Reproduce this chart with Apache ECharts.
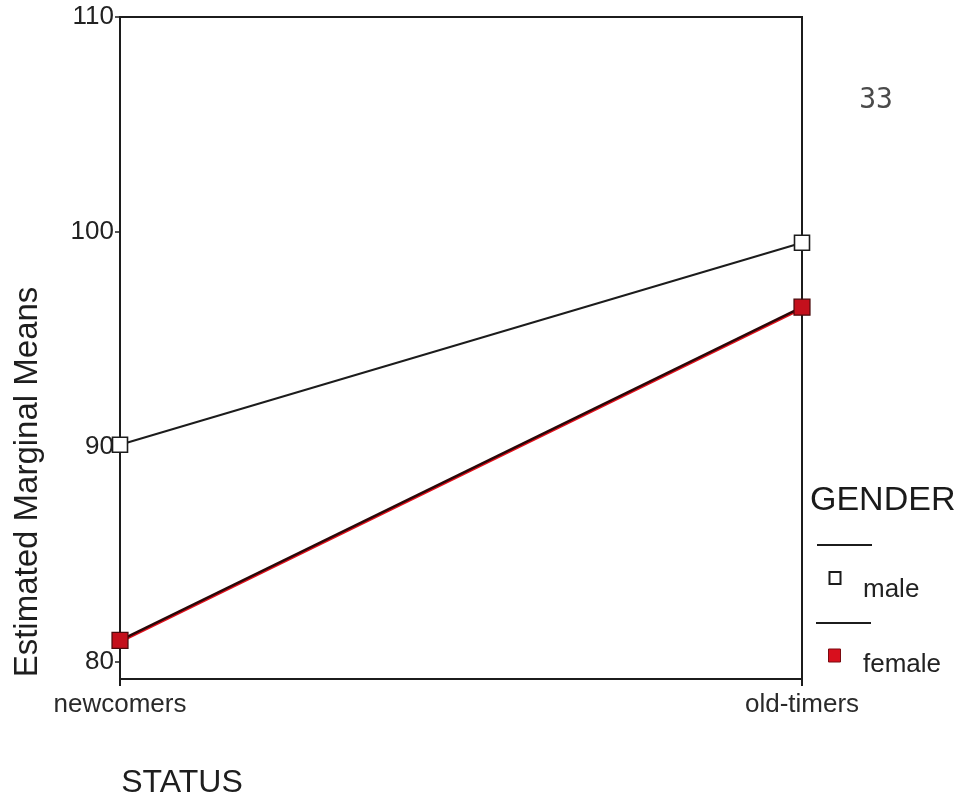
<!DOCTYPE html>
<html>
<head>
<meta charset="utf-8">
<title>Estimated Marginal Means by STATUS and GENDER</title>
<script src="https://cdn.jsdelivr.net/npm/echarts@6/dist/echarts.min.js"></script>
<style>
  html, body { margin: 0; padding: 0; background: #ffffff; }
  #chart { width: 971px; height: 802px; }
</style>
</head>
<body>
<div id="chart"></div>
<script>
// Categories along the x axis (STATUS)
const statusCategories = ['newcomers', 'old-timers'];

// Estimated marginal means for each GENDER group
const maleMeans = [90.1, 99.5];
const femaleMeans = [81.0, 96.5];

// Tick values on the y axis
const yTickValues = [80, 90, 100, 110];

const seriesNames = ['male', 'female'];
const legendTitle = 'GENDER';
const xTitle = 'STATUS';
const yTitle = 'Estimated Marginal Means';
const pageNumber = '33';

const FONT = '"Liberation Sans", Arial, Helvetica, sans-serif';
const INK = '#1c1c1c';
const FEMALE_FILL = '#c4101c';
const FEMALE_EDGE = '#4a0a0c';

const chart = echarts.init(document.getElementById('chart'), null, { renderer: 'canvas' });

const option = {
  backgroundColor: '#ffffff',
  animation: false,
  grid: {
    left: 120, top: 17, right: 169, bottom: 123,
    show: true, borderColor: INK, borderWidth: 2, backgroundColor: 'transparent'
  },
  xAxis: {
    type: 'category',
    data: statusCategories,
    boundaryGap: false,
    axisLine: { show: true, lineStyle: { color: INK, width: 2 } },
    axisTick: { show: true, length: 7, inside: false, lineStyle: { color: INK, width: 2 } },
    axisLabel: { margin: 13, color: '#2a2a2a', fontFamily: FONT, fontSize: 26 },
    splitLine: { show: false }
  },
  yAxis: {
    type: 'value',
    min: 79.2,
    max: 110,
    axisLine: { show: true, lineStyle: { color: INK, width: 2 } },
    axisTick: { show: true, length: 5, customValues: yTickValues, lineStyle: { color: INK, width: 1.5 } },
    axisLabel: { customValues: yTickValues, margin: 6, color: '#222', fontFamily: FONT, fontSize: 26 },
    splitLine: { show: false }
  },
  series: [
    {
      name: seriesNames[0],
      type: 'line',
      data: maleMeans,
      clip: false,
      symbol: 'rect',
      symbolSize: 15,
      z: 5,
      lineStyle: { color: INK, width: 2 },
      itemStyle: { color: '#ffffff', borderColor: INK, borderWidth: 1.6 }
    },
    {
      name: seriesNames[1],
      type: 'line',
      data: femaleMeans,
      clip: false,
      symbol: 'rect',
      symbolSize: 16,
      z: 5,
      lineStyle: { color: '#2a0708', width: 2.4, shadowColor: '#e0101c', shadowBlur: 0, shadowOffsetY: 1.5 },
      itemStyle: { color: FEMALE_FILL, borderColor: FEMALE_EDGE, borderWidth: 1.2 }
    }
  ],
  graphic: [
    // y axis title
    {
      type: 'text', x: 28, y: 482, rotation: Math.PI / 2,
      style: { text: yTitle, fill: '#1e1e1e', font: '33px ' + FONT, align: 'center', verticalAlign: 'middle' }
    },
    // x axis title
    {
      type: 'text', x: 182, y: 783,
      style: { text: xTitle, fill: '#1e1e1e', font: '32px ' + FONT, align: 'center', verticalAlign: 'middle' }
    },
    // page number
    {
      type: 'text', x: 876, y: 101,
      style: { text: pageNumber, fill: '#4a4a4a', font: '28px "DejaVu Sans Mono", "Liberation Mono", monospace', align: 'center', verticalAlign: 'middle' }
    },
    // legend
    {
      type: 'text', x: 810, y: 501,
      style: { text: legendTitle, fill: '#1a1a1a', font: '34px ' + FONT, align: 'left', verticalAlign: 'middle' }
    },
    { type: 'line', shape: { x1: 817, y1: 545, x2: 872, y2: 545 }, style: { stroke: INK, lineWidth: 2 } },
    { type: 'rect', shape: { x: 829.5, y: 572, width: 11, height: 12 }, style: { fill: '#ffffff', stroke: INK, lineWidth: 2 } },
    {
      type: 'text', x: 863, y: 590,
      style: { text: seriesNames[0], fill: '#222', font: '26px ' + FONT, align: 'left', verticalAlign: 'middle' }
    },
    { type: 'line', shape: { x1: 816, y1: 623, x2: 871, y2: 623 }, style: { stroke: INK, lineWidth: 2 } },
    { type: 'rect', shape: { x: 828.5, y: 649, width: 12, height: 13 }, style: { fill: '#d80f1d', stroke: '#7a0a10', lineWidth: 1 } },
    {
      type: 'text', x: 863, y: 665,
      style: { text: seriesNames[1], fill: '#222', font: '26px ' + FONT, align: 'left', verticalAlign: 'middle' }
    }
  ]
};

chart.setOption(option);
</script>
</body>
</html>
